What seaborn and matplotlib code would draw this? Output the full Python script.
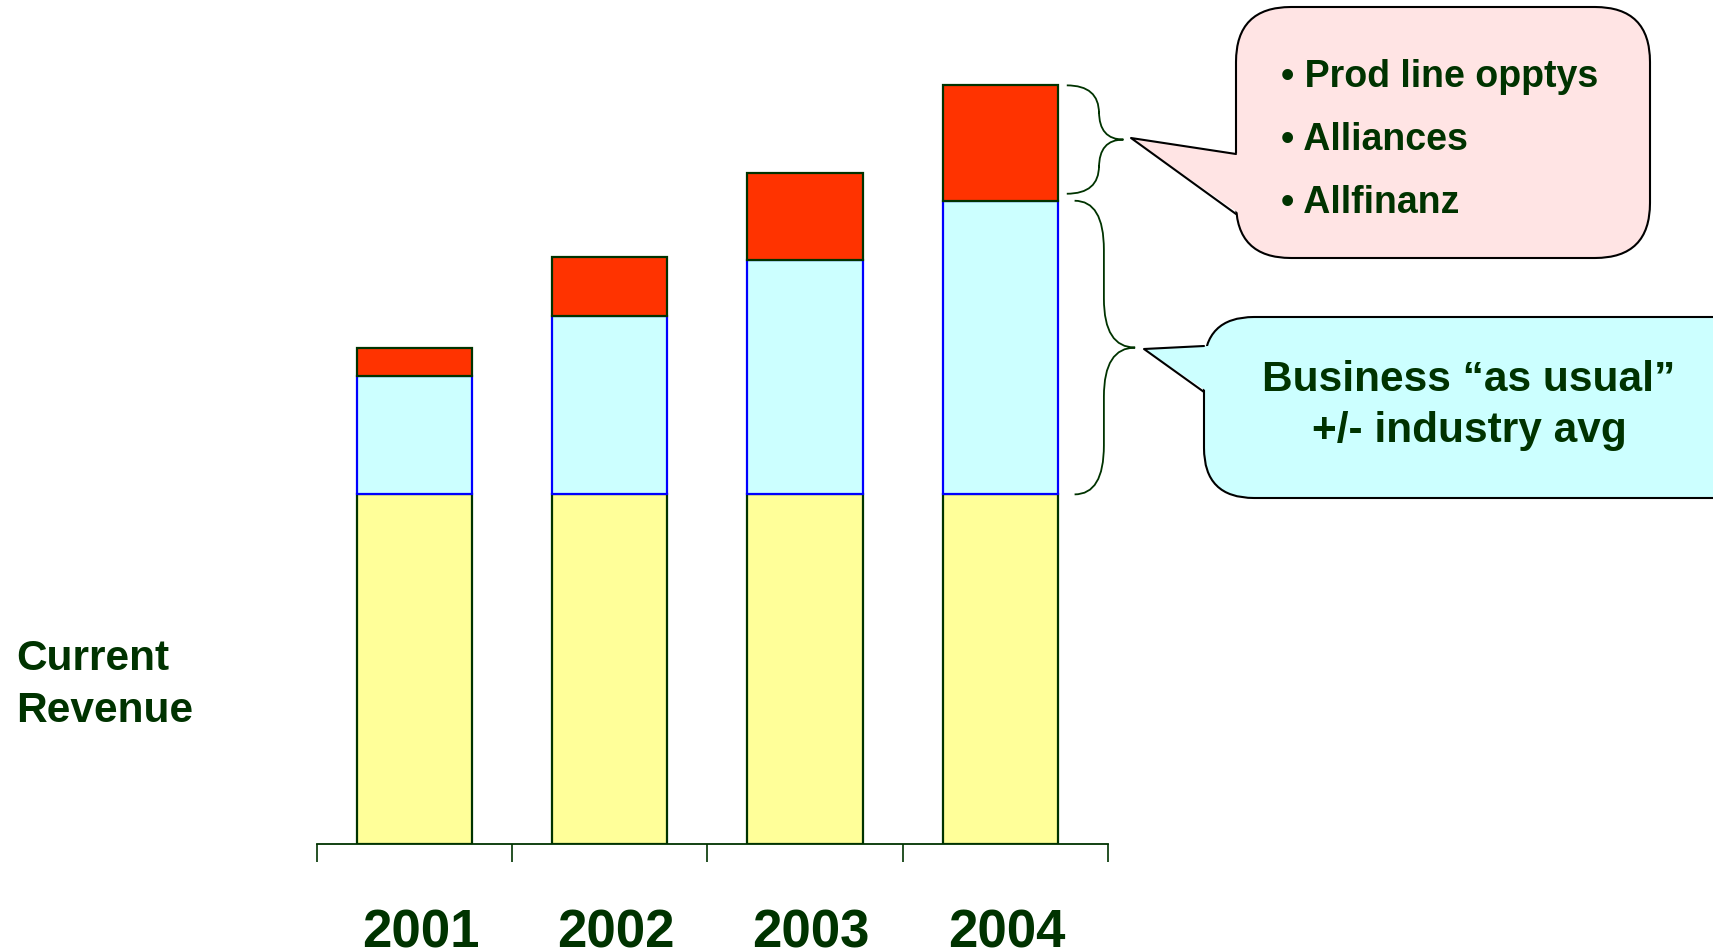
import matplotlib
matplotlib.use("Agg")
import matplotlib.pyplot as plt
import matplotlib.transforms as mtransforms
import seaborn as sns
import numpy as np
from matplotlib.path import Path
from matplotlib.patches import PathPatch, FancyBboxPatch, Polygon

# data (base revenue = 100)
years = ["2001", "2002", "2003", "2004"]
current = [100, 100, 100, 100]
as_usual = [34, 51, 67, 84]
new_opps = [8, 17, 25, 33]
bullets = ["• Prod line opptys", "• Alliances", "• Allfinanz"]
usual_text = ["Business \u201cas usual\u201d", "+/- industry avg"]
side_label = "Current\nRevenue"

W, H = 1713, 953
GREEN = "#003300"

sns.set_theme(style="white")
plt.rcParams["font.family"] = ["Liberation Sans", "DejaVu Sans"]
plt.rcParams["font.weight"] = "bold"

fig = plt.figure(figsize=(W / 100, H / 100), dpi=100)
ax = fig.add_axes([316.8 / W, 108 / H, 791 / W, 845 / H])

bw = 0.59
sns.barplot(x=years, y=current, color="#FFFF99", edgecolor=GREEN, linewidth=1.6,
            width=bw, saturation=1, ax=ax)
sns.barplot(x=years, y=as_usual, bottom=current, color="#CCFFFF", edgecolor="#0000FF",
            linewidth=1.6, width=bw, saturation=1, ax=ax)
base2 = np.add(current, as_usual)
sns.barplot(x=years, y=new_opps, bottom=base2, color="#FF3300", edgecolor=GREEN,
            linewidth=1.6, width=bw, saturation=1, ax=ax)

ax.set_xlim(-0.5, 3.55)
ax.set_ylim(0, 845 / 3.496)
ax.set_xlabel("")
ax.set_ylabel("")
for s in ["top", "right", "left"]:
    ax.spines[s].set_visible(False)
ax.spines["bottom"].set_color(GREEN)
ax.spines["bottom"].set_linewidth(1.3)
ax.set_yticks([])
ax.set_xticks(range(len(years)))
ax.set_xticklabels(years, fontsize=38, fontweight="bold", color=GREEN)
ax.tick_params(axis="x", which="major", length=0, pad=46)
ax.set_xticks([-0.5, 0.5, 1.5, 2.5, 3.55], minor=True)
ax.tick_params(axis="x", which="minor", bottom=True, length=13, width=1.2,
               color=GREEN, direction="out")
shift = mtransforms.ScaledTranslation(6 / 100, 0, fig.dpi_scale_trans)
for lab in ax.get_xticklabels():
    lab.set_transform(lab.get_transform() + shift)
ax.set_facecolor("none")


def brace(x0, xv, xt, y1, y2, r):
    ym = (y1 + y2) / 2
    verts = [(x0, y2), (xv, y2), (xv, y2 - r),
             (xv, ym + r), (xv, ym), (xt, ym),
             (xv, ym), (xv, ym - r),
             (xv, y1 + r), (xv, y1), (x0, y1)]
    codes = [Path.MOVETO, Path.CURVE3, Path.CURVE3,
             Path.LINETO, Path.CURVE3, Path.CURVE3,
             Path.CURVE3, Path.CURVE3,
             Path.LINETO, Path.CURVE3, Path.CURVE3]
    ax.add_patch(PathPatch(Path(verts, codes), fill=False, edgecolor=GREEN,
                           linewidth=1.3, clip_on=False))


total = base2 + np.array(new_opps)
brace(3.34, 3.505, 3.63, base2[-1] + 2, total[-1], 8)
brace(3.38, 3.53, 3.69, current[-1], base2[-1], 14)

# overlay in pixel coordinates for the callouts
ov = fig.add_axes([0, 0, 1, 1])
ov.set_xlim(0, W)
ov.set_ylim(H, 0)
ov.axis("off")
ov.set_facecolor("none")


def bubble(x, y, w, h, tip, b1, b2, fc, rs):
    ov.add_patch(FancyBboxPatch((x, y), w, h, boxstyle=f"round,pad=0,rounding_size={rs}",
                                facecolor=fc, edgecolor="black", linewidth=1.5))
    ov.add_patch(Polygon([tip, (b1[0] + 4, b1[1]), (b2[0] + 4, b2[1])], closed=True,
                         facecolor=fc, edgecolor="none"))
    ov.plot([b1[0], tip[0], b2[0]], [b1[1], tip[1], b2[1]], color="black", lw=1.5)


bubble(1236, 8, 414, 251, (1131, 139), (1236, 155), (1236, 215), "#FFE4E4", 55)
for i, t in enumerate(bullets):
    ov.text(1281, 77 + i * 63, t, fontsize=27, fontweight="bold", color=GREEN,
            va="center", ha="left")

bubble(1204, 318, 560, 181, (1144, 350), (1204, 347), (1204, 393), "#CCFFFF", 50)
for i, t in enumerate(usual_text):
    ov.text(1469, 380 + i * 51, t, fontsize=30.5, fontweight="bold", color=GREEN,
            va="center", ha="center")

ov.text(16, 685, side_label, fontsize=30.5, fontweight="bold", color=GREEN,
        va="center", ha="left", linespacing=1.38)

fig.savefig("out.png", dpi=100)
